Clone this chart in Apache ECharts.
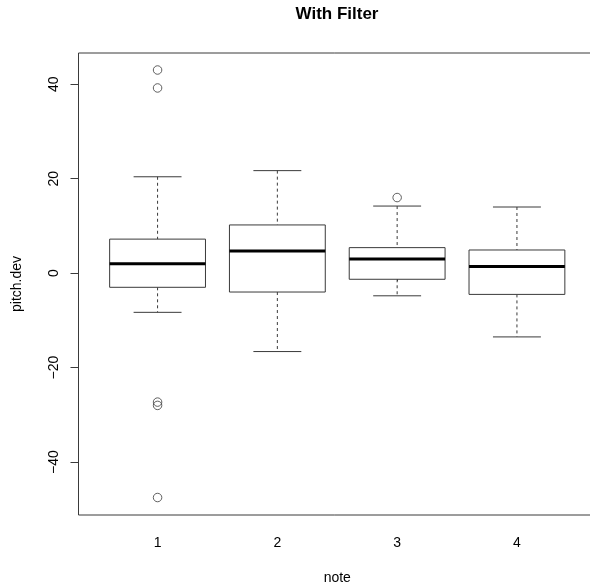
<!DOCTYPE html>
<html>
<head>
<meta charset="utf-8">
<script src="https://cdn.jsdelivr.net/npm/echarts@6/dist/echarts.min.js"></script>
<style>
  html, body { margin: 0; padding: 0; background: #fff; }
  #chart { width: 590px; height: 588px; }
</style>
</head>
<body>
<div id="chart"></div>
<script>
// boxplot stats per note
var notes = ['1', '2', '3', '4'];
var lowerWhisker = [-8.3, -16.6, -4.8, -13.5];
var q1 = [-3.0, -4.0, -1.3, -4.5];
var median = [2.0, 4.7, 3.0, 1.4];
var q3 = [7.2, 10.2, 5.4, 4.9];
var upperWhisker = [20.4, 21.7, 14.2, 14.0];

// outliers (note number, value)
var outlierNote = [1, 1, 1, 1, 1, 3];
var outlierValue = [43.0, 39.2, -27.3, -28.0, -47.5, 16.0];

var yTicks = [-40, -20, 0, 20, 40];
var xTicks = [1, 2, 3, 4];

var boxRows = notes.map(function (n, i) {
  return [i + 1, lowerWhisker[i], q1[i], median[i], q3[i], upperWhisker[i]];
});
var outlierRows = outlierNote.map(function (n, i) {
  return [n, outlierValue[i]];
});

var font = 'Liberation Sans, Arial, Helvetica, sans-serif';
var lineCol = '#3a3a3a';

var chart = echarts.init(document.getElementById('chart'));

var option = {
  animation: false,
  backgroundColor: '#fff',
  title: {
    text: 'With Filter',
    left: 337,
    top: 6,
    padding: 0,
    textAlign: 'center',
    textStyle: { fontFamily: font, fontSize: 17, fontWeight: 'bold', color: '#000' }
  },
  grid: {
    left: 78.5,
    right: -6,
    top: 53,
    bottom: 73,
    outerBoundsMode: 'none',
    containLabel: false,
    show: true,
    borderColor: lineCol,
    borderWidth: 1,
    backgroundColor: 'transparent'
  },
  xAxis: {
    type: 'value',
    min: 0.34,
    max: 4.66,
    name: 'note',
    nameLocation: 'middle',
    nameGap: 56,
    nameTextStyle: { fontFamily: font, fontSize: 14, color: '#000' },
    axisLine: { show: false },
    splitLine: { show: false },
    axisTick: { show: true, length: 8, lineStyle: { color: lineCol }, customValues: xTicks },
    axisLabel: {
      margin: 21,
      fontFamily: font, fontSize: 14, color: '#000',
      customValues: xTicks,
      formatter: function (v) { return notes[Math.round(v) - 1]; }
    }
  },
  yAxis: {
    type: 'value',
    min: -51.2,
    max: 46.6,
    name: 'pitch.dev',
    nameLocation: 'middle',
    nameGap: 54,
    nameTextStyle: { fontFamily: font, fontSize: 14, color: '#000' },
    axisLine: { show: false },
    splitLine: { show: false },
    axisTick: { show: true, length: 8, lineStyle: { color: lineCol }, customValues: yTicks },
    axisLabel: {
      margin: 17,
      rotate: 90,
      fontFamily: font, fontSize: 14, color: '#000',
      customValues: yTicks,
      formatter: function (v) { return String(v).replace('-', '\u2212'); }
    }
  },
  series: [
    {
      type: 'custom',
      data: boxRows,
      encode: { x: 0, y: [1, 2, 3, 4, 5] },
      renderItem: function (params, api) {
        var x = api.value(0);
        var lo = api.coord([x, api.value(1)]);
        var b1 = api.coord([x, api.value(2)]);
        var md = api.coord([x, api.value(3)]);
        var b3 = api.coord([x, api.value(4)]);
        var hi = api.coord([x, api.value(5)]);
        var bw = api.size([0.8, 0])[0];
        var cx = lo[0];
        var half = bw / 2, cap = bw / 4;
        var thin = { stroke: lineCol, lineWidth: 1, fill: null };
        var dash = { stroke: lineCol, lineWidth: 1, lineDash: [3, 3] };
        return {
          type: 'group',
          children: [
            { type: 'line', shape: { x1: cx, y1: hi[1], x2: cx, y2: b3[1] }, style: dash },
            { type: 'line', shape: { x1: cx, y1: b1[1], x2: cx, y2: lo[1] }, style: dash },
            { type: 'line', shape: { x1: cx - cap, y1: hi[1], x2: cx + cap, y2: hi[1] }, style: thin },
            { type: 'line', shape: { x1: cx - cap, y1: lo[1], x2: cx + cap, y2: lo[1] }, style: thin },
            { type: 'rect', shape: { x: cx - half, y: b3[1], width: bw, height: b1[1] - b3[1] },
              style: { stroke: lineCol, lineWidth: 1, fill: '#fff' } },
            { type: 'line', shape: { x1: cx - half, y1: md[1], x2: cx + half, y2: md[1] },
              style: { stroke: '#000', lineWidth: 3 } }
          ]
        };
      }
    },
    {
      type: 'scatter',
      data: outlierRows,
      symbol: 'circle',
      symbolSize: 8.5,
      itemStyle: { color: 'rgba(0,0,0,0)', borderColor: lineCol, borderWidth: 1 }
    }
  ]
};

chart.setOption(option);
</script>
</body>
</html>
